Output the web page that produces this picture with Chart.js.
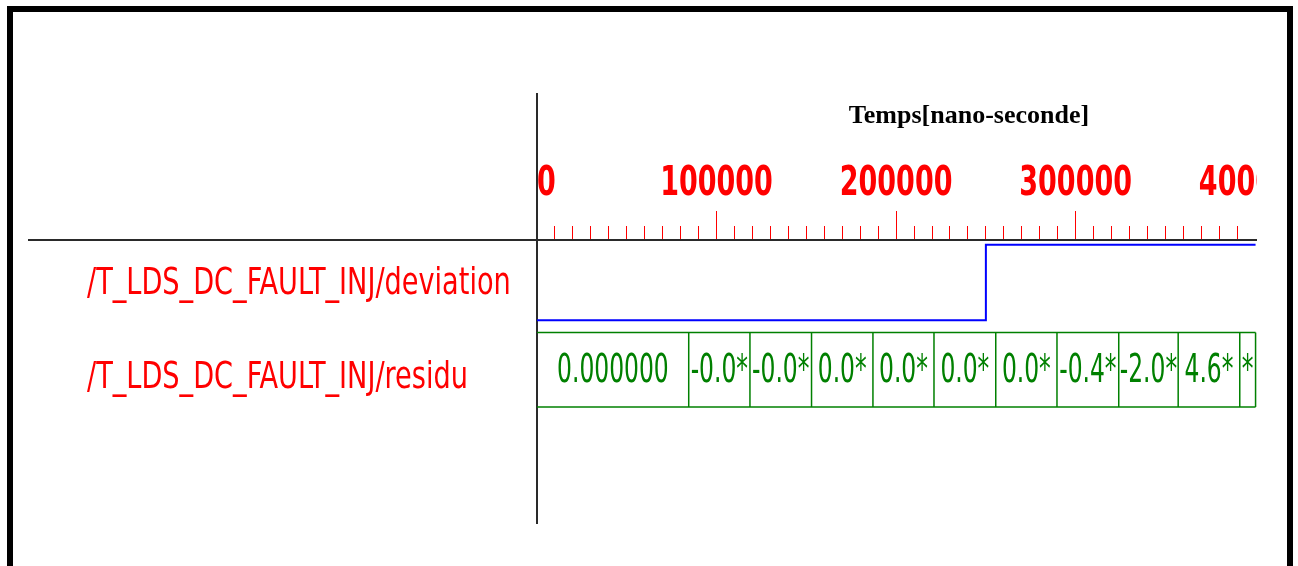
<!DOCTYPE html>
<html><head><meta charset="utf-8">
<script src="https://cdn.jsdelivr.net/npm/chart.js@4.4.1/dist/chart.umd.min.js"></script>
<style>
html,body{margin:0;padding:0;background:#fff;overflow:hidden;}
#frame{position:relative;width:1298px;height:566px;background:#fff;}
#chart{position:absolute;left:0;top:0;}
.bd{position:absolute;background:#000;}
</style></head><body>
<div id="frame">
<canvas id="chart" width="1257" height="566"></canvas>
<div class="bd" style="left:7px;top:6px;width:1286px;height:6px"></div>
<div class="bd" style="left:7px;top:6px;width:6px;height:560px"></div>
<div class="bd" style="left:1287px;top:6px;width:6px;height:560px"></div>
</div>
<script>
// ---- data ----
const signalNames = ['/T_LDS_DC_FAULT_INJ/deviation', '/T_LDS_DC_FAULT_INJ/residu'];
const axisTitle = 'Temps[nano-seconde]';
const timeMax = 401000;
const timeTickLabels = [0, 100000, 200000, 300000, 400000];
const majorMarks = [0, 100000, 200000, 300000];
const minorStep = 10000;
const lastMinorMark = 390000;
const simEnd = 400200;
const deviationTimes = [0, 250000];
const deviationValues = [0, 1];
const residuTimes = [0, 84500, 118600, 152900, 187100, 221100, 255500, 289600, 324000, 357100, 391400];
const residuLabels = ['0.000000', '-0.0*', '-0.0*', '0.0*', '0.0*', '0.0*', '0.0*', '-0.4*', '-2.0*', '4.6*', '*'];

// ---- style ----
const RED = '#ff0000', BLUE = '#0000ff', GREEN = '#008000', AXIS = '#2a2a2a';
const NARROW = '"Liberation Sans Narrow", "DejaVu Sans Condensed", "Arial Narrow", sans-serif';
const SERIF = '"Liberation Serif", "Times New Roman", serif';
const LANE_LABEL = [0.47, 1.47];
const DEV_LOW = 0.85, DEV_HIGH = 0.05;
const BOX_TOP = 0.98, BOX_BOTTOM = 1.77;
const HEADER_LINE_LEFT = 28;
const TITLE_FRAC = 0.6, TITLE_BASELINE = 30;

const minorMarks = [];
for (let v = 0; v <= lastMinorMark; v += minorStep) minorMarks.push(v);

const devY = v => DEV_LOW + (DEV_HIGH - DEV_LOW) * v;
const devData = deviationTimes.map((t, i) => ({x: t, y: devY(deviationValues[i])}));
devData.push({x: simEnd, y: devY(deviationValues[deviationValues.length - 1])});

const boxTop = [{x: 0, y: BOX_TOP}, {x: simEnd, y: BOX_TOP}];
const boxBottom = [{x: 0, y: BOX_BOTTOM}, {x: simEnd, y: BOX_BOTTOM}];
const sepData = [];
residuTimes.slice(1).concat([simEnd]).forEach(t => {
  sepData.push({x: t, y: BOX_TOP}, {x: t, y: BOX_BOTTOM}, {x: t, y: null});
});

// tall, narrow lettering like the original waveform viewer: stretch each axis label vertically about its own centre
function stretchLabels(s, k, band) {
  if (s._stretched) return;
  s._stretched = true;
  const orig = s.drawLabels;
  s.drawLabels = function (ca) {
    const ctx = this.ctx;
    const items = this.getLabelItems(ca);
    items.forEach(it => {
      const off = it.textOffset !== undefined ? it.textOffset : (it.options.textOffset || 0);
      const cy = it.options.translation[1] + off;
      const tx = it.options.translation[0];
      ctx.save();
      ctx.beginPath();
      if (this.isHorizontal()) ctx.rect(tx - 85, cy - band, 170, 2 * band);
      else ctx.rect(0, cy - band, this.chart.width, 2 * band);
      ctx.clip();
      ctx.translate(0, cy); ctx.scale(1, k); ctx.translate(0, -cy);
      orig.call(this, ca);
      ctx.restore();
    });
  };
}

const overlay = {
  id: 'overlay',
  afterDraw(chart) {
    const ctx = chart.ctx, ca = chart.chartArea;
    const xs = chart.scales.x, ys = chart.scales.y;
    ctx.save();
    ctx.strokeStyle = AXIS; ctx.lineWidth = 2;
    ctx.beginPath();
    ctx.moveTo(HEADER_LINE_LEFT, ca.top); ctx.lineTo(ca.left, ca.top);
    ctx.moveTo(ca.left, xs.top); ctx.lineTo(ca.left, ca.top);
    ctx.stroke();
    ctx.fillStyle = '#000';
    ctx.font = 'bold 26px ' + SERIF;
    ctx.textAlign = 'center'; ctx.textBaseline = 'alphabetic';
    ctx.fillText(axisTitle, ca.left + TITLE_FRAC * (ca.right - ca.left), xs.top + TITLE_BASELINE);
    ctx.fillStyle = GREEN;
    ctx.font = '26px ' + NARROW;
    ctx.textBaseline = 'middle';
    const cy = (ys.getPixelForValue(BOX_TOP) + ys.getPixelForValue(BOX_BOTTOM)) / 2 + 2;
    residuLabels.forEach((lab, i) => {
      const t0 = residuTimes[i];
      const t1 = i + 1 < residuTimes.length ? residuTimes[i + 1] : simEnd;
      const cx = (xs.getPixelForValue(t0) + xs.getPixelForValue(t1)) / 2;
      ctx.save();
      ctx.translate(cx, cy);
      ctx.scale(1, 1.5);
      ctx.fillText(lab, 0, 0);
      ctx.restore();
    });
    ctx.restore();
  }
};

const noPad = s => { s.paddingLeft = 0; s.paddingRight = 0; };
const markAxis = (values, len, weight) => ({
  type: 'linear', position: 'top', min: 0, max: timeMax, weight: weight,
  afterFit: s => { s.height = 0; noPad(s); },
  afterBuildTicks: s => { s.ticks = values.map(v => ({value: v})); },
  ticks: {display: false, autoSkip: false},
  grid: {drawOnChartArea: false, drawTicks: true, tickLength: len, tickWidth: 1, tickColor: RED},
  border: {display: false}
});

function build() {
  new Chart(document.getElementById('chart'), {
    type: 'line',
    data: {
      datasets: [
        {data: devData, borderColor: BLUE, borderWidth: 2, stepped: 'before', pointRadius: 0, fill: false},
        {data: boxTop, borderColor: GREEN, borderWidth: 1.5, pointRadius: 0, fill: false},
        {data: boxBottom, borderColor: GREEN, borderWidth: 1.5, pointRadius: 0, fill: false},
        {data: sepData, borderColor: GREEN, borderWidth: 1.5, pointRadius: 0, fill: false, spanGaps: false}
      ]
    },
    options: {
      responsive: false, animation: false, devicePixelRatio: 1, events: [],
      layout: {autoPadding: false, padding: {top: 93, left: 87, right: 0, bottom: 43}},
      plugins: {legend: {display: false}, tooltip: {enabled: false}, title: {display: false}},
      scales: {
        x: {
          type: 'linear', position: 'top', min: 0, max: timeMax, weight: 10,
          afterFit: s => { s.height = 147; noPad(s); },
          afterUpdate: s => stretchLabels(s, 1.36, 26),
          afterBuildTicks: s => { s.ticks = timeTickLabels.map(v => ({value: v})); },
          ticks: {
            autoSkip: false, maxRotation: 0, minRotation: 0,
            padding: 38, color: RED, font: {family: NARROW, size: 30, weight: 'bold'},
            callback: v => (v === 0 ? '  0' : String(v))
          },
          grid: {drawOnChartArea: false, drawTicks: false},
          border: {display: true, color: AXIS, width: 2}
        },
        xMajor: markAxis(majorMarks, 29, 1),
        xMinor: markAxis(minorMarks, 14, 0),
        y: {
          type: 'linear', position: 'left', reverse: true, min: 0, max: 3,
          afterFit: s => { s.width = 450; },
          afterUpdate: s => stretchLabels(s, 1.22, 32),
          afterBuildTicks: s => { s.ticks = LANE_LABEL.map(v => ({value: v})); },
          ticks: {crossAlign: 'far', autoSkip: false, color: RED, font: {family: NARROW, size: 30.2},
                  callback: (v, i) => signalNames[i]},
          grid: {drawOnChartArea: false, drawTicks: false},
          border: {display: true, color: AXIS, width: 2}
        }
      }
    },
    plugins: [overlay]
  });
}

Promise.all([
  document.fonts.load('30px "DejaVu Sans Condensed"'),
  document.fonts.load('bold 30px "DejaVu Sans Condensed"'),
  document.fonts.load('bold 26px "Liberation Serif"')
]).then(build, build);
</script>
</body></html>
